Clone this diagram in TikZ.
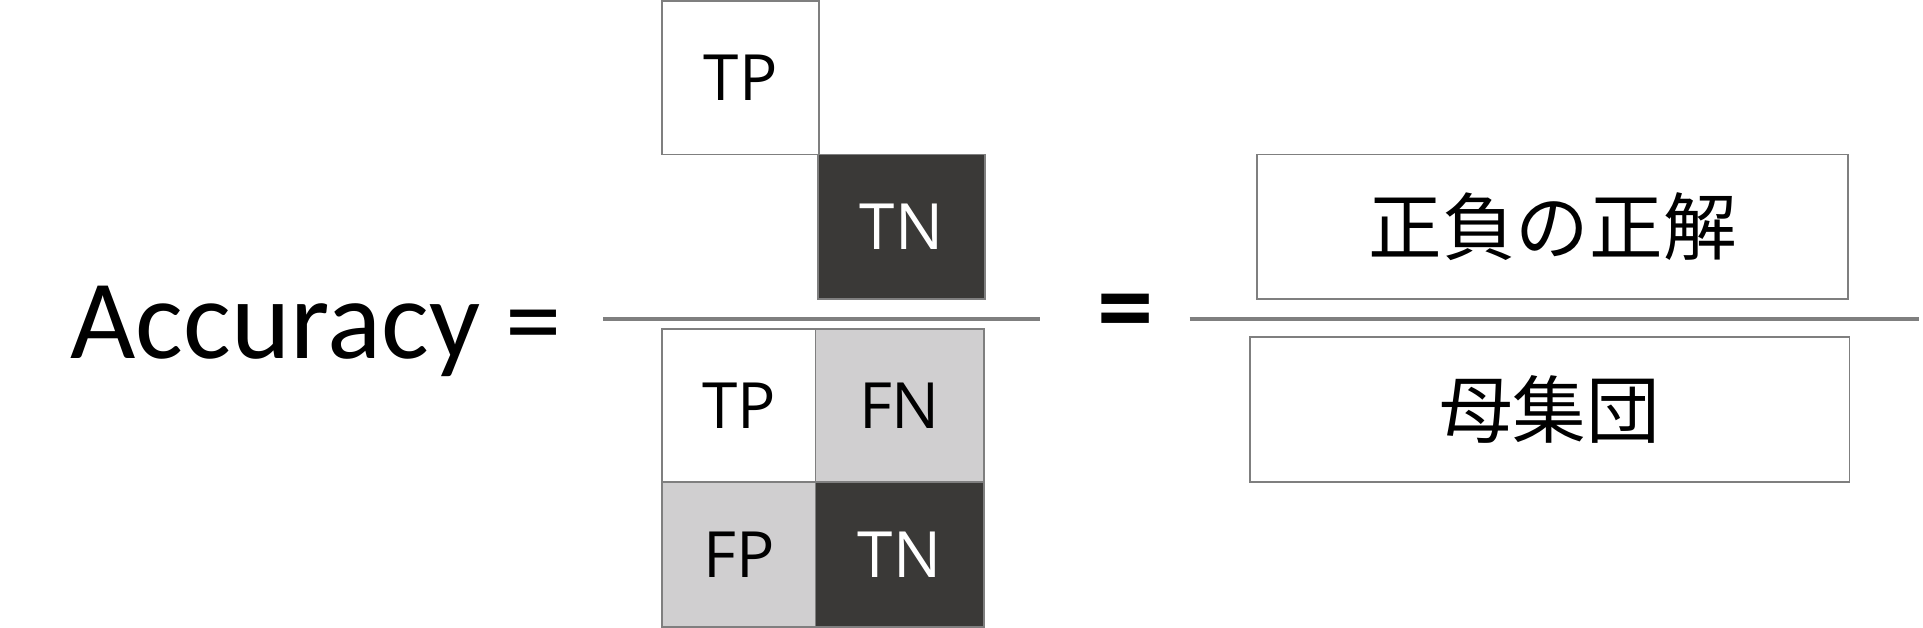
\documentclass[tikz,border=0pt]{standalone}
\usepackage{fontspec}
\setmainfont{Carlito}
\newfontfamily\cellfont{Open Sans}
\newfontfamily\jpfont{Noto Sans CJK JP}
\definecolor{edgegrey}{HTML}{7F7F7F}
\definecolor{darkcell}{HTML}{3A3937}
\definecolor{lightcell}{HTML}{D0CFD0}
\tikzset{
  cell/.style={rectangle,draw=edgegrey,line width=0.75pt,inner sep=0pt,
    font=\cellfont\fontsize{26}{26}\selectfont},
  whitecell/.style={cell,fill=white,text=black},
  greycell/.style={cell,fill=lightcell,text=black},
  blackcell/.style={cell,fill=darkcell,text=white},
  wordbox/.style={rectangle,draw=edgegrey,line width=0.75pt,inner sep=0pt,
    font=\jpfont\fontsize{30}{30}\selectfont},
  barline/.style={draw=edgegrey,line width=1.5pt}
}
\begin{document}
\begin{tikzpicture}[x=0.5pt,y=-0.5pt]
  \useasboundingbox (0,0) rectangle (1568,512);
  % left side
  \node[anchor=base west,inner sep=0pt,font=\fontsize{46}{46}\selectfont] (acc) at (57,292) {Accuracy =};
  % numerator
  \node[whitecell,minimum width=64pt,minimum height=62.5pt] (numtp) at (604,63.5) {TP};
  \node[blackcell,minimum width=68pt,minimum height=59pt] (numtn) at (735,185) {TN};
  \coordinate (la) at (492,260);
  \coordinate (lb) at (848,260);
  \draw[barline] (la) -- (lb);
  % denominator
  \node[whitecell,minimum width=62.5pt,minimum height=62.5pt] (dentp) at (602.5,330.5) {TP};
  \node[greycell,minimum width=68.5pt,minimum height=62.5pt] (denfn) at (733.5,330.5) {FN};
  \node[greycell,minimum width=62.5pt,minimum height=59pt] (denfp) at (602.5,452) {FP};
  \node[blackcell,minimum width=68.5pt,minimum height=59pt] (dentn) at (733.5,452) {TN};
  % right side
  \node[inner sep=0pt,font=\bfseries\fontsize{46}{46}\selectfont] (eq) at (917.5,260) {=};
  \coordinate (ra) at (970,260);
  \coordinate (rb) at (1565,260);
  \draw[barline] (ra) -- (rb);
  \node[wordbox,minimum width=241pt,minimum height=59pt] (correct) at (1266,185) {正負の正解};
  \node[wordbox,minimum width=244.5pt,minimum height=59pt] (whole) at (1263.5,334) {母集団};
\end{tikzpicture}
\end{document}
